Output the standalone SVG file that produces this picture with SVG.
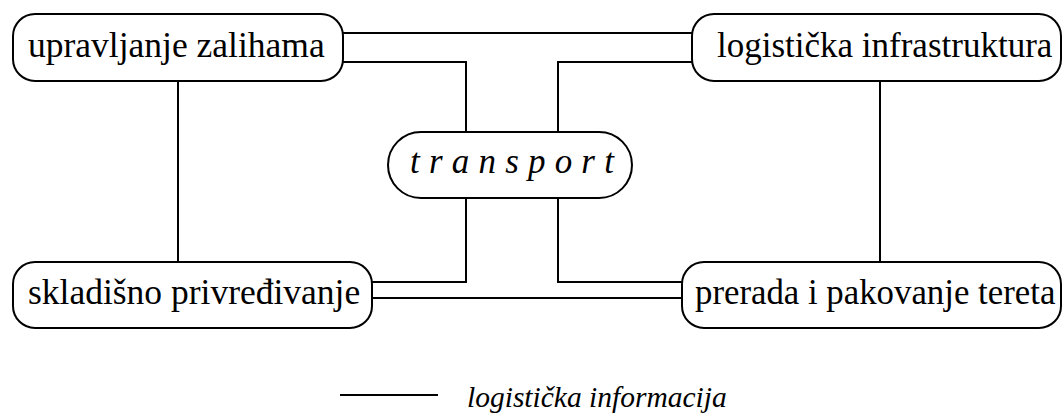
<svg xmlns="http://www.w3.org/2000/svg" width="1064" height="417" viewBox="0 0 1064 417">
<style>
.box{fill:#fff;stroke:#000;stroke-width:2}
.ln{fill:none;stroke:#000;stroke-width:2}
</style>
<rect width="1064" height="417" fill="#fff"/>
<g id="connectors">
<polyline class="ln" points="343,33 692,33"/>
<polyline class="ln" points="343,62 466,62 466,132"/>
<polyline class="ln" points="692,62 558,62 558,132"/>
<polyline class="ln" points="178,81 178,262"/>
<polyline class="ln" points="880,81 880,262"/>
<polyline class="ln" points="372,298 682,298"/>
<polyline class="ln" points="372,282 466,282 466,198"/>
<polyline class="ln" points="682,282 558,282 558,198"/>
</g>
<g id="n1">
<rect class="box" x="13" y="14" width="330" height="67" rx="22"/>
<text x="28" y="57" font-size="35.5" font-family="Liberation Serif">upravljanje zalihama</text>
</g>
<g id="n2">
<rect class="box" x="692" y="14" width="369" height="67" rx="22"/>
<text x="717" y="57" font-size="35" font-family="Liberation Serif">logistička infrastruktura</text>
</g>
<g id="n3">
<rect class="box" x="388" y="132" width="244" height="66" rx="33"/>
<text x="410" y="173" font-size="35" font-family="Liberation Serif" font-style="italic" letter-spacing="9.2">transport</text>
</g>
<g id="n4">
<rect class="box" x="13" y="262" width="359" height="66" rx="22"/>
<text x="28" y="304" font-size="35.5" font-family="Liberation Serif">skladišno privređivanje</text>
</g>
<g id="n5">
<rect class="box" x="682" y="262" width="379" height="66" rx="22"/>
<text x="695" y="304" font-size="34.8" font-family="Liberation Serif">prerada i pakovanje tereta</text>
</g>
<g id="legend">
<line class="ln" x1="340" y1="395" x2="438" y2="395"/>
<text x="467" y="407" font-size="29.5" font-family="Liberation Serif" font-style="italic">logistička informacija</text>
</g>
</svg>
